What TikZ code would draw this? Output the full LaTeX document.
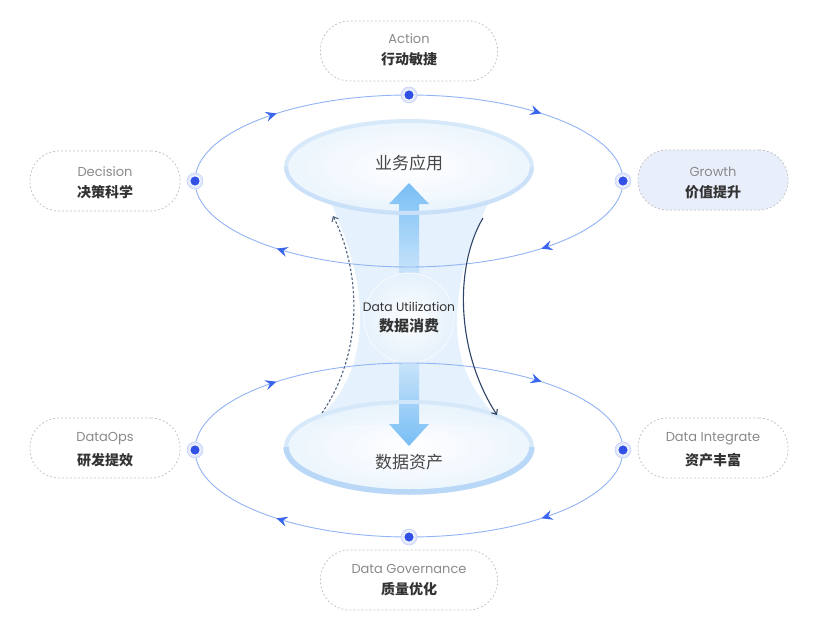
\documentclass[tikz,border=0pt]{standalone}
\usepackage{fontspec}
\setmainfont{Poppins}
\newfontfamily\cjk{Noto Sans CJK SC}
\usetikzlibrary{arrows.meta,decorations.markings}
\definecolor{orbitc}{HTML}{92B3F4}
\definecolor{tipc}{HTML}{3A66EE}
\definecolor{dotc}{HTML}{3050E6}
\definecolor{ringc}{HTML}{BFCDF8}
\definecolor{boxline}{HTML}{C4C4C4}
\definecolor{engc}{HTML}{8A8A8A}
\definecolor{zhc}{HTML}{333333}
\definecolor{growthfill}{HTML}{E9EEFB}
\definecolor{innerline}{HTML}{D4E8FA}
\definecolor{innerdark}{HTML}{B9D7F7}
\definecolor{arrowtop}{HTML}{78BEF5}
\definecolor{glass}{HTML}{E0EFFC}
\definecolor{navy}{HTML}{2E4468}
\tikzset{
  labelbox/.style={draw=boxline, dash pattern=on 1.8pt off 2.2pt, line width=0.8pt,
    rounded corners=29pt, minimum width=150pt, minimum height=60pt, inner sep=0},
  widebox/.style={labelbox, minimum width=177pt},
  engtext/.style={text=engc, font=\fontsize{13}{15}\selectfont, inner sep=0},
  zhtext/.style={text=zhc, font=\cjk\bfseries\fontsize{14}{16}\selectfont, inner sep=0},
  bigzh/.style={text=zhc!90, font=\cjk\fontsize{17}{19}\selectfont, inner sep=0},
  orbittip/.tip={Stealth[length=11pt,width=10pt,inset=4pt,color=tipc]},
  orbitline/.style={draw=orbitc, line width=0.9pt, postaction=decorate,
    decoration={markings,
      mark=at position 0.114 with {\arrow{orbittip}},
      mark=at position 0.386 with {\arrow{orbittip}},
      mark=at position 0.614 with {\arrow{orbittip}},
      mark=at position 0.886 with {\arrow{orbittip}}}},
  dotnode/.style={circle, inner sep=0, minimum size=16pt, fill=ringc!45, draw=ringc, line width=0.5pt,
    path picture={\fill[white] (path picture bounding box.center) circle[radius=5.6pt];
      \fill[dotc] (path picture bounding box.center) circle[radius=4.6pt];}},
  innerfill/.style={inner color=white, outer color=glass!70},
  flowarrow/.style={line width=1.1pt, -{Straight Barb[length=4pt,width=7pt]}},
}
\begin{document}
\begin{tikzpicture}[x=1pt,y=-1pt]
\useasboundingbox (0,0) rectangle (828,618);
\fill[white] (0,0) rectangle (828,618);

% hourglass
\fill[glass!85] (330,200) .. controls (352,250) and (362,290) .. (360,325)
  .. controls (358,370) and (340,400) .. (312,425) -- (505,425)
  .. controls (475,398) and (456,365) .. (457,320)
  .. controls (458,275) and (470,240) .. (490,200) -- cycle;

% inner ellipses (fill)
\shade[innerfill, opacity=0.85] (409,167) ellipse [x radius=123, y radius=46];
\shade[innerfill, opacity=0.85] (409,447) ellipse [x radius=123, y radius=45];

% big arrows
\shade[top color=arrowtop, bottom color=glass]
  (399,300) -- (399,204) -- (389,204) -- (409,183) -- (429,204) -- (419,204) -- (419,300) -- cycle;
\shade[top color=glass, bottom color=arrowtop]
  (399,338) -- (399,424) -- (389,424) -- (409,446) -- (429,424) -- (419,424) -- (419,338) -- cycle;

% inner ellipse strokes
\draw[innerline, line width=4pt, opacity=0.9] (409,167) ellipse [x radius=123, y radius=46];
\draw[innerdark!80, line width=4pt, opacity=0.8] (532,167) arc[start angle=0, end angle=180, x radius=123, y radius=46];
\draw[innerline, line width=4pt, opacity=0.9] (409,447) ellipse [x radius=123, y radius=45];
\draw[innerdark, line width=5.5pt] (532,447) arc[start angle=0, end angle=180, x radius=123, y radius=45];

\node[bigzh] (appT) at (409,163) {业务应用};
\node[bigzh] (assetT) at (409,462) {数据资产};

% core circle
\node[circle, minimum size=90pt, inner sep=0, inner color=white, outer color=glass!80,
  draw=white!70!glass, line width=1pt, opacity=0.95] (core) at (409,318) {};
\node[text=zhc, font=\fontsize{12.3}{14}\selectfont, inner sep=0] (coreE) at (409,307) {Data Utilization};
\node[text=zhc, font=\cjk\bfseries\fontsize{15}{17}\selectfont, inner sep=0] (coreZ) at (409,326) {数据消费};

% orbits
\draw[orbitline] (409,181) ellipse [x radius=214, y radius=86];
\draw[orbitline] (409,450) ellipse [x radius=214, y radius=87];

% dots
\node[dotnode] (dA) at (409,95) {};
\node[dotnode] (dD) at (195,181) {};
\node[dotnode] (dG) at (623,181) {};
\node[dotnode] (dO) at (195,450) {};
\node[dotnode] (dI) at (623,450) {};
\node[dotnode] (dV) at (409,537) {};

% label boxes
\node[widebox] (bA) at (409,51) {};
\node[engtext] (bAe) at (409,39) {Action};
\node[zhtext] (bAz) at (409,59) {行动敏捷};

\node[labelbox] (bD) at (105,181) {};
\node[engtext] (bDe) at (105,172) {Decision};
\node[zhtext] (bDz) at (105,192) {决策科学};

\node[labelbox, fill=growthfill] (bG) at (713,180) {};
\node[engtext] (bGe) at (713,172) {Growth};
\node[zhtext] (bGz) at (713,192) {价值提升};

\node[labelbox] (bO) at (105,448) {};
\node[engtext] (bOe) at (105,439) {DataOps};
\node[zhtext] (bOz) at (105,460) {研发提效};

\node[labelbox] (bI) at (713,448) {};
\node[engtext] (bIe) at (713,439) {Data Integrate};
\node[zhtext] (bIz) at (713,460) {资产丰富};

\node[widebox] (bV) at (409,580) {};
\node[engtext] (bVe) at (409,569) {Data Governance};
\node[zhtext] (bVz) at (409,589) {质量优化};

% curved flow arrows
\coordinate (dashS) at (322,413);
\coordinate (dashE) at (333,216);
\coordinate (solS) at (483,218);
\coordinate (solE) at (497,415);
\draw[flowarrow, navy!85, dash pattern=on 2.5pt off 2pt] (dashS) .. controls (365,350) and (360,270) .. (dashE);
\draw[flowarrow, navy] (solS) .. controls (455,265) and (455,350) .. (solE);
\end{tikzpicture}
\end{document}
